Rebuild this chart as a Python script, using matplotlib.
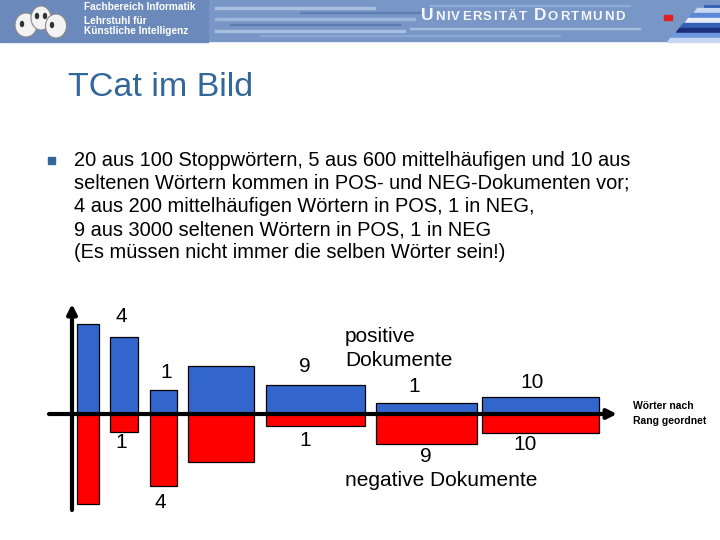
import matplotlib
matplotlib.use("Agg")
import matplotlib.pyplot as plt
from matplotlib.patches import Rectangle, Ellipse, Polygon

plt.rcParams['font.family'] = ['Liberation Sans', 'DejaVu Sans']

# ---------------- data ----------------
title = "TCat im Bild"
body_lines = [
    "20 aus 100 Stoppwörtern, 5 aus 600 mittelhäufigen und 10 aus",
    "seltenen Wörtern kommen in POS- und NEG-Dokumenten vor;",
    "4 aus 200 mittelhäufigen Wörtern in POS, 1 in NEG,",
    "9 aus 3000 seltenen Wörtern in POS, 1 in NEG",
    "(Es müssen nicht immer die selben Wörter sein!)",
]
# bars: left edge and width along the rank axis, heights above / below
bar_left = [37, 70, 110, 148, 226, 336, 442]
bar_width = [22, 28, 27, 66, 99, 101, 117]
pos_height = [90, 77, 24, 48, 29, 11, 17]
neg_height = [90, 18, 72, 48, 12, 30, 19]
pos_color = "#3366CC"
neg_color = "#FF0000"

W, H = 720, 540
fig = plt.figure(figsize=(7.2, 5.4), dpi=100)
fig.patch.set_facecolor("white")

# overlay axes in pixel coordinates for slide decoration/text
ov = fig.add_axes([0, 0, 1, 1])
ov.set_xlim(0, W)
ov.set_ylim(H, 0)
ov.axis("off")

# ---------------- header banner ----------------
ov.add_patch(Rectangle((0, 0), 720, 41, color="#7896c6", zorder=1))
ov.add_patch(Rectangle((0, 0), 208, 42, color="#6b89bb", zorder=1))
streaks = [(215, 7, 160, 1.5, "#a9c0e2"), (300, 12, 120, 1.2, "#5f7fb3"),
           (215, 18, 200, 1.5, "#9cb6dc"), (230, 24, 170, 1.3, "#5d7db0"),
           (215, 30, 190, 1.5, "#a7bfe1"), (260, 35, 300, 1.2, "#8aa6d2"),
           (410, 28, 230, 1.4, "#a4bde0"), (430, 5, 200, 1.2, "#8fabd6")]
for x0, y0, w, h, c in streaks:
    ov.add_patch(Rectangle((x0, y0), w, h, color=c, zorder=2))
# faces logo
for cx, cy, rx, ry in [(26, 25, 22, 24), (41, 18, 20, 24), (56, 26, 21, 24)]:
    ov.add_patch(Ellipse((cx, cy), rx, ry, facecolor="#f2f2f2",
                         edgecolor="#8a8a8a", lw=0.8, zorder=3))
for ex, ey in [(37, 16), (45, 16), (22, 24), (52, 25)]:
    ov.add_patch(Ellipse((ex, ey), 3, 5, color="#333333", zorder=4))
ov.text(84, 7, "Fachbereich Informatik", color="white", fontsize=7.3,
        fontweight="bold", va="center", ha="left", zorder=5)
ov.text(84, 21, "Lehrstuhl für", color="white", fontsize=7.3,
        fontweight="bold", va="center", ha="left", zorder=5)
ov.text(84, 31, "Künstliche Intelligenz", color="white", fontsize=7.3,
        fontweight="bold", va="center", ha="left", zorder=5)
# University name in small caps with letter spacing
chars = [("U", 12.5)] + [(c, 9.5) for c in "NIVERSITÄT"] + [(" ", 9.5), ("D", 12.5)] + \
        [(c, 9.5) for c in "ORTMUND"]
prev = None
for s, fs in chars:
    if prev is None:
        prev = ov.text(421, 20, s, color="#f4f6fb", fontsize=fs, fontweight="bold",
                       va="baseline", ha="left", zorder=5)
    else:
        prev = ov.annotate(s, xy=(1, 20), xycoords=(prev, "data"),
                           xytext=(1.1, 0), textcoords="offset points",
                           color="#f4f6fb", fontsize=fs, fontweight="bold",
                           va="baseline", ha="left", zorder=5)
# right stripes logo
stripes = [(8, "#c9d8f0"), (13, "#5b87d6"), (18, "#e8eef8"), (23, "#3560b8"),
           (28, "#1d2f7a"), (33, "#6e97dd"), (38, "#c6d6f0")]
for yy, c in stripes:
    ov.add_patch(Polygon([(668 + (40 - yy) * 0.9, yy), (720, yy), (720, yy + 3.5),
                          (668 + (36.5 - yy) * 0.9, yy + 3.5)], closed=True,
                         color=c, zorder=3))
ov.add_patch(Rectangle((664, 15), 8, 5, color="#e02020", zorder=4))
ov.plot([705, 720], [6, 6], color="#3560b8", lw=2, zorder=4)

# ---------------- title & bullet text ----------------
ov.text(68, 88, title, color="#336699", fontsize=24.5, va="center", ha="left")
ov.add_patch(Rectangle((48, 157), 7, 7, color="#336699"))
y0, dy = 160, 23.2
for i, line in enumerate(body_lines):
    ov.text(74, y0 + i * dy, line, fontsize=14.4, va="center", ha="left",
            color="black")

# ---------------- chart ----------------
cx0, cx1 = 40, 620
cy0, cy1 = 300, 528
ax = fig.add_axes([cx0 / W, 1 - cy1 / H, (cx1 - cx0) / W, (cy1 - cy0) / H])
ax.set_xlim(0, cx1 - cx0)
ax.set_ylim(-114, 114)
ax.axis("off")
ax.patch.set_alpha(0)

ax.bar(bar_left, pos_height, width=bar_width, align="edge", color=pos_color,
       edgecolor="black", linewidth=0.9, zorder=2)
ax.bar(bar_left, [-h for h in neg_height], width=bar_width, align="edge",
       color=neg_color, edgecolor="black", linewidth=0.9, zorder=2)

# axes arrows
ax.annotate("", xy=(577, 0), xytext=(9, 0),
            arrowprops=dict(arrowstyle="-|>", lw=3, color="black",
                            mutation_scale=14, shrinkA=0, shrinkB=0), zorder=3)
ax.annotate("", xy=(32, 110), xytext=(32, -96),
            arrowprops=dict(arrowstyle="-|>", lw=3, color="black",
                            mutation_scale=14, shrinkA=0, shrinkB=0), zorder=3)

# annotations (pixel coordinates of the slide)
lab_fs = 15
labels = [(121, 317, "4"), (121, 443, "1"), (166, 372, "1"), (160, 503, "4"),
          (305, 367, "9"), (305, 441, "1"), (414, 387, "1"), (532, 382, "10"),
          (525, 444, "10"), (426, 456, "9")]
for x, y, s in labels:
    ov.text(x, y, s, fontsize=lab_fs, ha="center", va="center", zorder=6)
ov.text(345, 336, "positive", fontsize=lab_fs, ha="left", va="center")
ov.text(345, 361, "Dokumente", fontsize=lab_fs, ha="left", va="center")
ov.text(345, 480, "negative Dokumente", fontsize=lab_fs, ha="left", va="center")
ov.text(633, 406, "Wörter nach", fontsize=7.5, fontweight="bold",
        ha="left", va="center")
ov.text(633, 421, "Rang geordnet", fontsize=7.5, fontweight="bold",
        ha="left", va="center")

fig.savefig("out.png", dpi=100, facecolor="white")
